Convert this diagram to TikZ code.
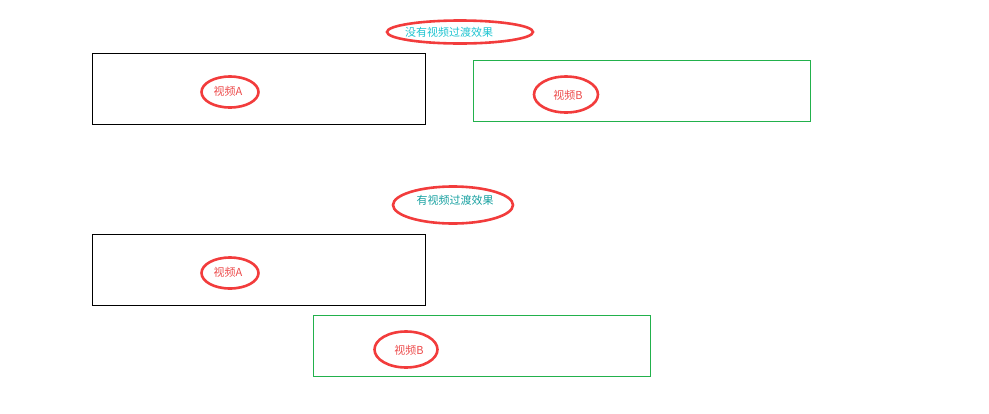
\documentclass[tikz,border=0pt]{standalone}
\usepackage{fontspec}
\setmainfont{Noto Sans CJK SC}
\usetikzlibrary{shapes.geometric}

\definecolor{ringred}{HTML}{F23C3C}
\definecolor{labelred}{HTML}{EC4A4A}
\definecolor{boxgreen}{HTML}{22B14C}
\definecolor{titlecyan}{HTML}{1EC3D0}
\definecolor{titleteal}{HTML}{16A0A0}

\tikzset{
  clipbox/.style={draw, minimum width=#1, minimum height=61pt, inner sep=0pt, line width=0.8pt},
  ring/.style args={#1x#2}{ellipse, draw=ringred, line width=2.6pt, minimum width=#1, minimum height=#2, inner sep=0pt},
  tag/.style={font=\fontsize{11}{13}\selectfont, inner sep=0pt},
}

\begin{document}
\begin{tikzpicture}[x=1pt,y=-1pt]
  \useasboundingbox (0,0) rectangle (989,413);

  % without transition
  \node[ring=146ptx23pt] (ringTop) at (460,32) {};
  \node[tag, text=titlecyan] (titleTop) at (449,32) {没有视频过渡效果};
  \node[clipbox=333pt, minimum height=71pt] (clipA) at (258.5,88.5) {};
  \node[ring=57ptx31pt] (ringA) at (230,92) {};
  \node[tag, text=labelred] (labelA) at (228,91.5) {视频A};
  \node[clipbox=337pt, draw=boxgreen] (clipB) at (641.5,90.5) {};
  \node[ring=64ptx36pt] (ringB) at (566,94.5) {};
  \node[tag, text=labelred] (labelB) at (568,95.5) {视频B};

  % with transition
  \node[ring=120ptx37pt] (ringBot) at (453,205) {};
  \node[tag, text=titleteal] (titleBot) at (455,200) {有视频过渡效果};
  \node[clipbox=333pt, minimum height=71pt] (clipAA) at (258.5,269.5) {};
  \node[ring=57ptx31pt] (ringAA) at (230,273) {};
  \node[tag, text=labelred] (labelAA) at (228,272.5) {视频A};
  \node[clipbox=337pt, draw=boxgreen] (clipBB) at (481.5,345.5) {};
  \node[ring=63ptx36pt] (ringBB) at (406,349.5) {};
  \node[tag, text=labelred] (labelBB) at (409,350.5) {视频B};
\end{tikzpicture}
\end{document}
